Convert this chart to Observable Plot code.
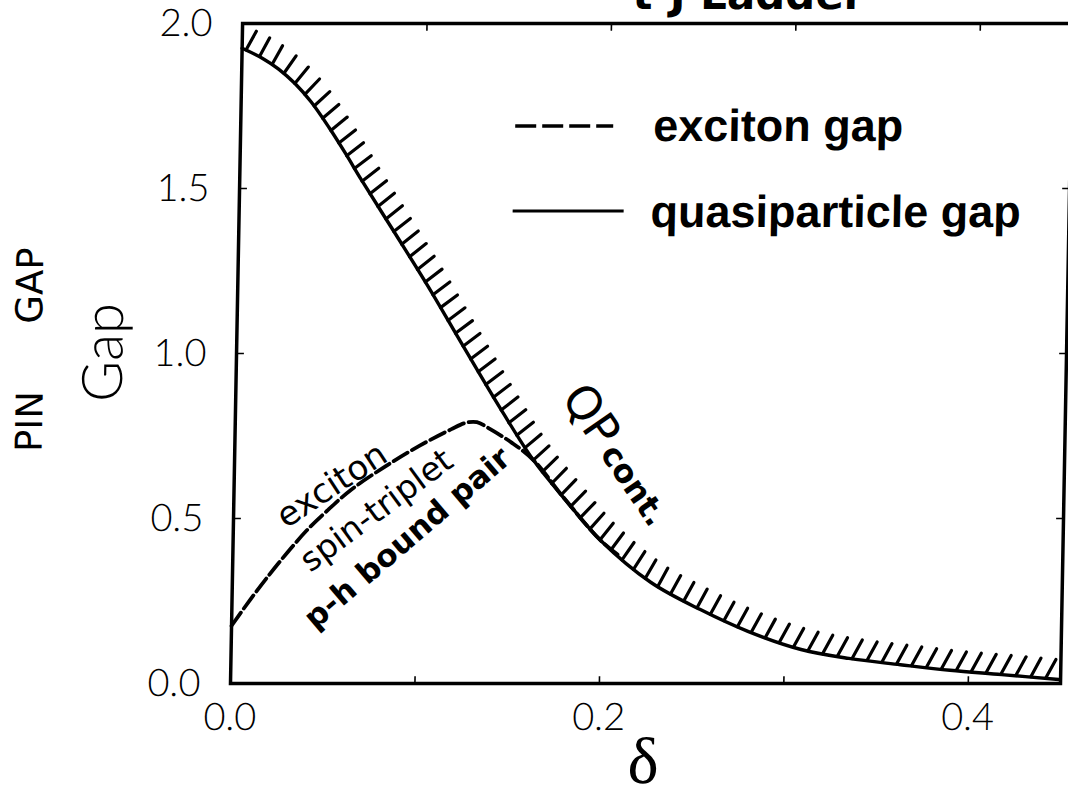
<!DOCTYPE html>
<html>
<head>
<meta charset="utf-8">
<script src="https://cdn.jsdelivr.net/npm/d3@7"></script>
<script src="https://cdn.jsdelivr.net/npm/@observablehq/plot@0.6"></script>
<style>
  html, body { margin: 0; padding: 0; background: #fff; overflow: hidden; }
  #chart {
    position: absolute; left: 0; top: 0; width: 1068px; height: 791px;
    transform: skewX(-1.05deg); transform-origin: 0 683px;
  }
</style>
</head>
<body>
<div id="chart"></div>
<script>
// Quasiparticle-continuum edge (solid, hatched) vs. hole doping delta
const qpDelta = [0, 0.011, 0.02, 0.029, 0.038, 0.048, 0.057, 0.066, 0.085, 0.103, 0.122, 0.144, 0.162, 0.18, 0.199, 0.227, 0.254, 0.28, 0.309, 0.335, 0.363, 0.39, 0.418, 0.449];
const qpGap   = [1.925, 1.895, 1.862, 1.818, 1.762, 1.684, 1.607, 1.526, 1.362, 1.205, 1.03, 0.83, 0.677, 0.555, 0.435, 0.306, 0.224, 0.158, 0.103, 0.076, 0.057, 0.04, 0.027, 0.012];

// Exciton (spin-triplet particle-hole bound state) gap, dashed
const exDelta = [0, 0.01, 0.02, 0.03, 0.04, 0.05, 0.063, 0.081, 0.1, 0.117, 0.125, 0.131, 0.137, 0.15, 0.162, 0.18, 0.199, 0.21];
const exGap   = [0.175, 0.255, 0.33, 0.4, 0.465, 0.52, 0.585, 0.655, 0.72, 0.77, 0.79, 0.792, 0.775, 0.73, 0.677, 0.555, 0.435, 0.385];

const seriesNames = ["exciton gap", "quasiparticle gap"];

const xTickLabels = [0, 0.2, 0.4];
const xTickMarks  = [0.1, 0.2, 0.3, 0.4];
const yTickLabels = [0, 0.5, 1, 1.5, 2];
const yTickMarks  = [0.5, 1, 1.5];

// Hand-written annotations, anchored in (delta, gap) coordinates
const noteExciton = [{text: "exciton",        delta: 0.053,  gap: 0.60}];
const noteTriplet = [{text: "spin-triplet",   delta: 0.0775, gap: 0.524}];
const notePair    = [{text: "p-h bound pair", delta: 0.0945, gap: 0.44}];
const noteQP      = [{text: "QP",             delta: 0.1925, gap: 0.812}];
const noteCont    = [{text: "cont.",          delta: 0.2165, gap: 0.60}];

const qp = qpDelta.map((d, i) => ({delta: d, gap: qpGap[i]}));
const ex = exDelta.map((d, i) => ({delta: d, gap: exGap[i]}));

const hand = "'DejaVu Sans', sans-serif";
const light = "Lato, 'Liberation Sans', sans-serif";

// Short hatch strokes on the upper-right side of the continuum edge
function hatches(index, scales) {
  const ns = "http://www.w3.org/2000/svg";
  const pts = qp.map(d => [scales.x(d.delta), scales.y(d.gap)]);
  const d = d3.line().curve(d3.curveCatmullRom)(pts);
  const tmp = document.createElementNS(ns, "svg");
  tmp.setAttribute("style", "position:absolute;visibility:hidden;left:0;top:0");
  const probe = document.createElementNS(ns, "path");
  probe.setAttribute("d", d);
  tmp.appendChild(probe);
  document.body.appendChild(tmp);
  const L = probe.getTotalLength();
  const g = document.createElementNS(ns, "g");
  g.setAttribute("stroke", "#000");
  g.setAttribute("stroke-width", "3.2");
  g.setAttribute("stroke-linecap", "round");
  const len = 21;
  for (let s = 5; s < L - 2; s += 15) {
    const p = probe.getPointAtLength(s);
    const q = probe.getPointAtLength(Math.min(L, s + 1.5));
    const tan = Math.atan2(q.y - p.y, q.x - p.x) * 180 / Math.PI;
    const ang = Math.max(tan - 96, -62) * Math.PI / 180;
    const ln = document.createElementNS(ns, "line");
    ln.setAttribute("x1", p.x);
    ln.setAttribute("y1", p.y);
    ln.setAttribute("x2", p.x + len * Math.cos(ang));
    ln.setAttribute("y2", p.y + len * Math.sin(ang));
    g.appendChild(ln);
  }
  tmp.remove();
  return g;
}

const chart = Plot.plot({
  width: 1068,
  height: 791,
  marginLeft: 230,
  marginRight: 8,
  marginTop: 23,
  marginBottom: 108,
  style: {background: "white", fontFamily: light, fontSize: "38px", fontWeight: 300, color: "#000"},
  x: {domain: [0, 0.45], ticks: xTickLabels, tickFormat: ".1f", tickSize: 0, tickPadding: 20, label: null},
  y: {domain: [0, 2], ticks: yTickLabels, tickFormat: ".1f", tickSize: 0, tickPadding: 30, label: null},
  marks: [
    Plot.frame({stroke: "#000", strokeWidth: 3.5}),
    // inward tick marks
    Plot.link(xTickMarks, {x1: d => d, x2: d => d, y1: 0, y2: 0.022, stroke: "#000", strokeWidth: 1.6}),
    Plot.link(xTickMarks, {x1: d => d, x2: d => d, y1: 2, y2: 1.978, stroke: "#000", strokeWidth: 1.6}),
    Plot.link(yTickMarks, {x1: 0, x2: 0.004, y1: d => d, y2: d => d, stroke: "#000", strokeWidth: 1.6}),
    Plot.link(yTickMarks, {x1: 0.45, x2: 0.446, y1: d => d, y2: d => d, stroke: "#000", strokeWidth: 1.6}),
    // curves
    Plot.line(qp, {x: "delta", y: "gap", curve: "catmull-rom", stroke: "#000", strokeWidth: 3.4}),
    hatches,
    Plot.line(ex, {x: "delta", y: "gap", curve: "catmull-rom", stroke: "#000", strokeWidth: 3.8, strokeDasharray: "16,5"}),
    // annotations
    Plot.text(noteExciton, {x: "delta", y: "gap", text: "text", rotate: -34, fontSize: 34, fontFamily: hand, fontWeight: 400, textAnchor: "middle", lineAnchor: "middle"}),
    Plot.text(noteTriplet, {x: "delta", y: "gap", text: "text", rotate: -37, fontSize: 33, fontFamily: hand, fontWeight: 400, textAnchor: "middle", lineAnchor: "middle"}),
    Plot.text(notePair, {x: "delta", y: "gap", text: "text", rotate: -41, fontSize: 31, fontFamily: hand, fontWeight: 700, textAnchor: "middle", lineAnchor: "middle"}),
    Plot.text(noteQP, {x: "delta", y: "gap", text: "text", rotate: 55, fontSize: 46, fontFamily: hand, fontWeight: 400, textAnchor: "middle", lineAnchor: "middle"}),
    Plot.text(noteCont, {x: "delta", y: "gap", text: "text", rotate: 55, fontSize: 32, fontFamily: hand, fontWeight: 700, textAnchor: "middle", lineAnchor: "middle"}),
    // axis titles
    Plot.text(["Gap"], {frameAnchor: "left", dx: -132, dy: -1, rotate: -90, fontSize: 56, fontFamily: light, fontWeight: 300, textAnchor: "middle", lineAnchor: "middle"}),
    Plot.text(["PIN"], {frameAnchor: "left", dx: -205, dy: 68, rotate: -90, fontSize: 37, fontFamily: hand, fontWeight: 400, textAnchor: "middle", lineAnchor: "middle"}),
    Plot.text(["GAP"], {frameAnchor: "left", dx: -207, dy: -68, rotate: -90, fontSize: 37, fontFamily: hand, fontWeight: 400, textAnchor: "middle", lineAnchor: "middle"}),
    Plot.text(["δ"], {frameAnchor: "bottom", dx: -1, dy: 78, fontSize: 66, fontFamily: "'Liberation Serif', serif", fontWeight: 400, textAnchor: "middle", lineAnchor: "middle"})
  ]
});

const svg = d3.select(chart);

// Title along the top edge
svg.append("text")
  .attr("x", 852).attr("y", 9)
  .attr("text-anchor", "end")
  .attr("font-family", hand).attr("font-weight", 700).attr("font-size", 42)
  .text("t-J Ladder");

// Legend inside the frame
const legend = svg.append("g").attr("font-family", "'Liberation Sans', Arial, sans-serif")
  .attr("font-weight", 700).attr("font-size", 45).attr("fill", "#000").attr("text-anchor", "start");
const rows = [
  {x1: 505, x2: 603, y: 126, tx: 643, ty: 141, dash: "21,6", w: 3.5},
  {x1: 504, x2: 615, y: 211, tx: 642, ty: 227, dash: null, w: 3}
];
rows.forEach((r, i) => {
  legend.append("line").attr("x1", r.x1).attr("x2", r.x2).attr("y1", r.y).attr("y2", r.y)
    .attr("stroke", "#000").attr("stroke-width", r.w).attr("stroke-dasharray", r.dash);
  legend.append("text").attr("x", r.tx).attr("y", r.ty).attr("text-anchor", "start").text(seriesNames[i]);
});

document.getElementById("chart").append(chart);
</script>
</body>
</html>
